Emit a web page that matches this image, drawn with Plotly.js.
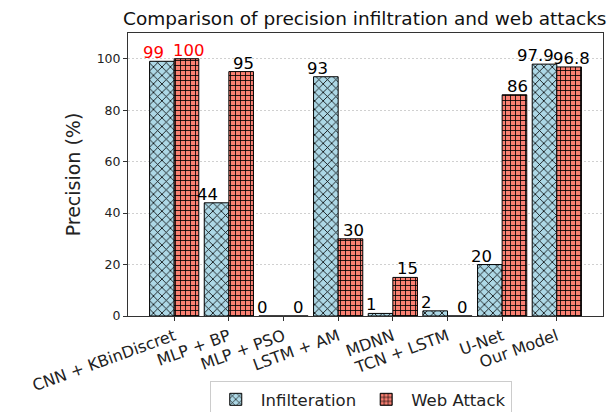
<!DOCTYPE html>
<html>
<head>
<meta charset="utf-8">
<script src="https://cdn.plot.ly/plotly-3.0.1.min.js"></script>
<style>html,body{margin:0;padding:0;background:#fff;}#chart{width:608px;height:412px;}</style>
</head>
<body>
<div id="chart"></div>
<script>
const categories = ["CNN + KBinDiscret", "MLP + BP", "MLP + PSO", "LSTM + AM", "MDNN", "TCN + LSTM", "U-Net", "Our Model"];
const infiltration = [99, 44, 0, 93, 1, 2, 20, 97.9];
const webAttack = [100, 95, 0, 30, 15, 0, 86, 96.8];
const labelColors = ["red", "black", "black", "black", "black", "black", "black", "black"];

const FONT = "DejaVu Sans, sans-serif";

const traces = [
  {
    type: "bar", name: "Infilteration", x: categories, y: infiltration,
    marker: {color: "#add8e6", line: {color: "black", width: 1},
             pattern: {shape: "x", fgcolor: "black", bgcolor: "#add8e6", size: 6, solidity: 0.25}}
  },
  {
    type: "bar", name: "Web Attack", x: categories, y: webAttack,
    marker: {color: "#fa8072", line: {color: "black", width: 1},
             pattern: {shape: "+", fgcolor: "black", bgcolor: "#fa8072", size: 5, solidity: 0.3}}
  }
];

const annotations = [];
categories.forEach((c, i) => {
  annotations.push({x: c, y: infiltration[i], text: String(infiltration[i]), showarrow: false,
    xref: "x", yref: "y", yanchor: "bottom", xshift: -21, yshift: -3,
    font: {family: FONT, size: 16.5, color: labelColors[i]}});
  annotations.push({x: c, y: webAttack[i], text: String(webAttack[i]), showarrow: false,
    xref: "x", yref: "y", yanchor: "bottom", xshift: 15, yshift: -3,
    font: {family: FONT, size: 16.5, color: labelColors[i]}});
});

const layout = {
  width: 608, height: 412,
  margin: {l: 128, r: 5, t: 33, b: 96},
  paper_bgcolor: "white", plot_bgcolor: "white",
  font: {family: FONT, color: "#222"},
  title: {text: "Comparison of precision infiltration and web attacks", x: 0.6, xanchor: "center",
          y: 0.955, yanchor: "middle", font: {family: FONT, size: 18.5, color: "#111"}},
  barmode: "group", bargap: 0.1, bargroupgap: 0,
  xaxis: {
    range: [-0.845, 7.845], tickangle: -20, ticks: "outside", ticklen: 4, tickcolor: "#333",
    showline: true, linecolor: "#333", linewidth: 1, mirror: true, showgrid: false, automargin: false,
    tickfont: {family: FONT, size: 16, color: "#222"}
  },
  yaxis: {
    range: [0, 110], tickvals: [0, 20, 40, 60, 80, 100], ticks: "outside", ticklen: 4, tickcolor: "#333",
    showline: true, linecolor: "#333", linewidth: 1, mirror: true, automargin: false,
    showgrid: true, gridcolor: "#c4c4c4", griddash: "2px,2px", gridwidth: 0.8, zeroline: false,
    tickfont: {family: FONT, size: 12.5, color: "#222"},
    title: {text: "Precision (%)", font: {family: FONT, size: 19, color: "#222"}, standoff: 10}
  },
  legend: {
    orientation: "h", x: 0.49, xanchor: "center", yref: "container", y: 0.075, yanchor: "top",
    bordercolor: "#cccccc", borderwidth: 1, bgcolor: "white",
    font: {family: FONT, size: 16.5, color: "#222"}, itemwidth: 40
  },
  annotations: annotations,
  showlegend: true
};

Plotly.newPlot("chart", traces, layout, {displayModeBar: false, staticPlot: true});
</script>
</body>
</html>
